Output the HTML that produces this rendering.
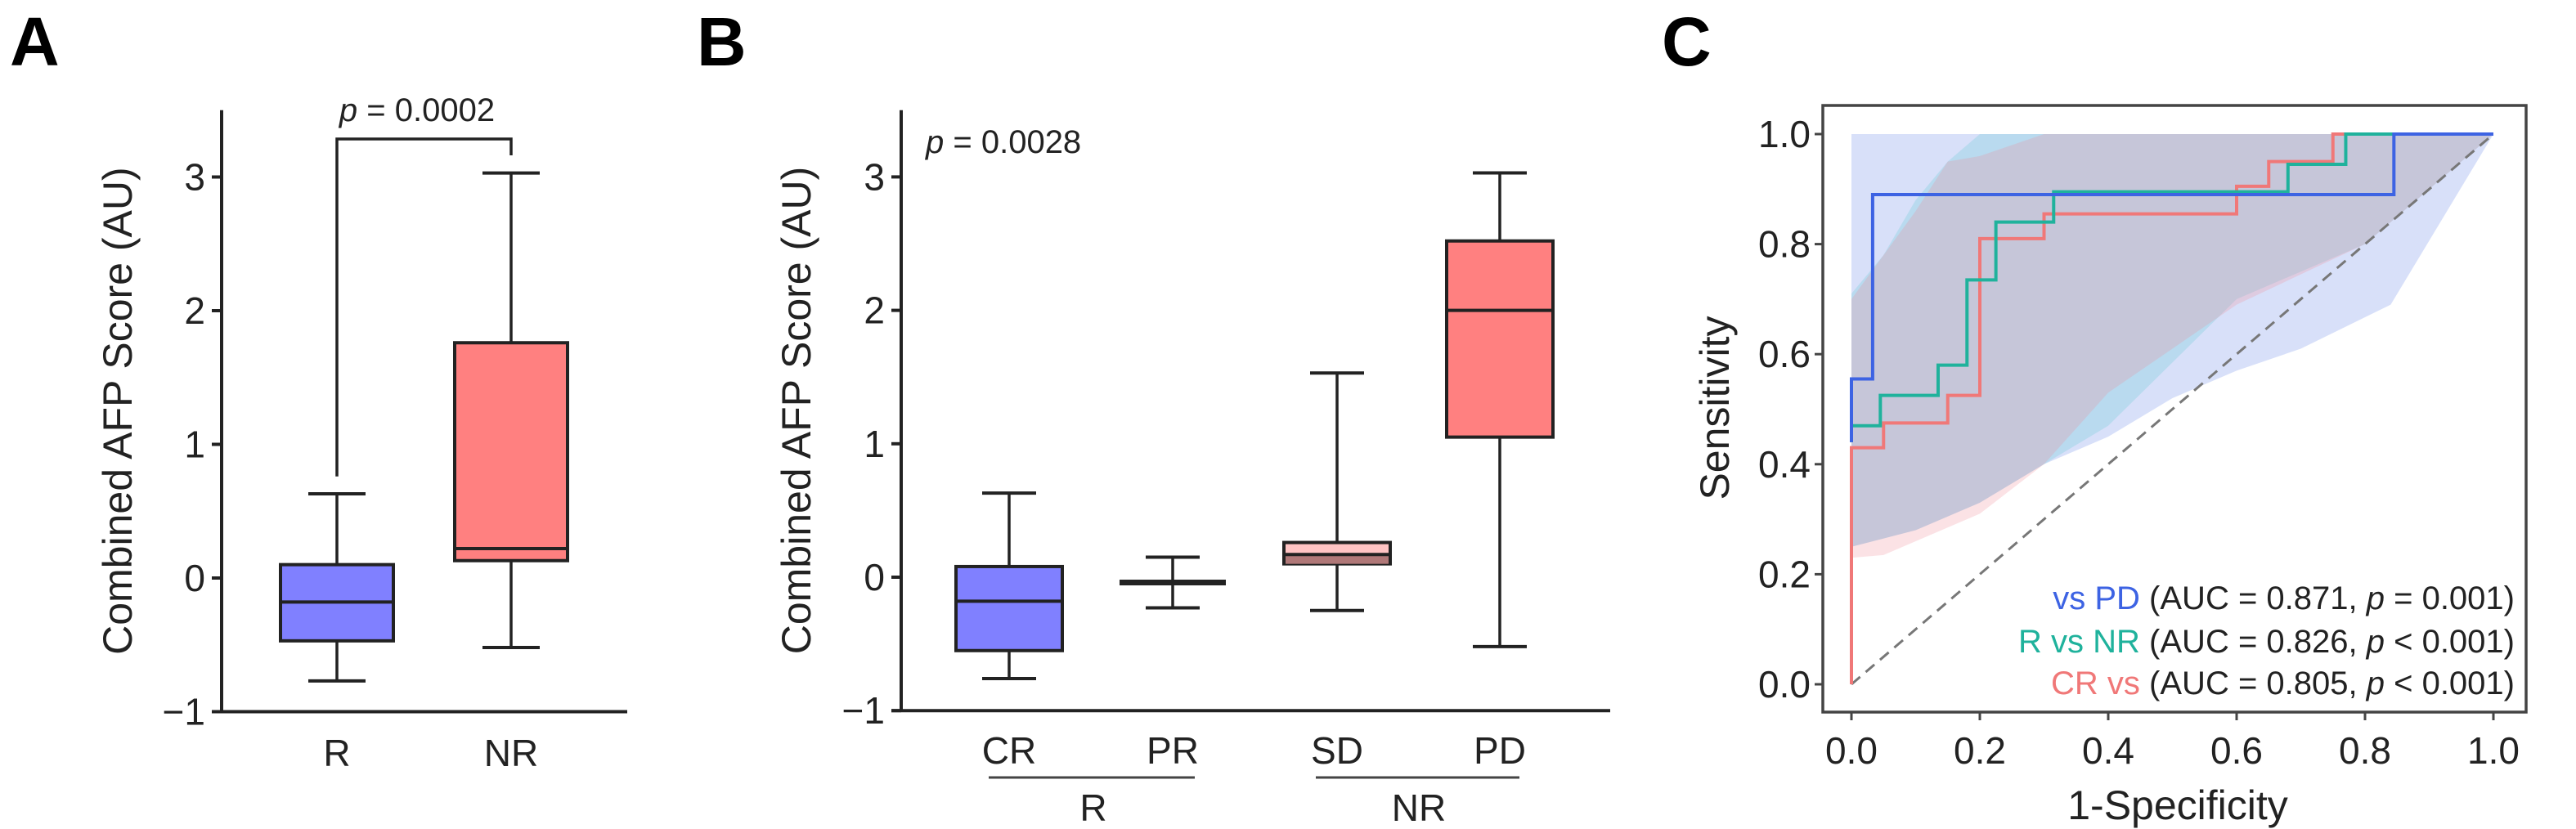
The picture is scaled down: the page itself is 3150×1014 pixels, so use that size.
<!DOCTYPE html>
<html><head><meta charset="utf-8">
<style>
html,body{margin:0;padding:0;background:#fff;}
svg{display:block;font-family:"Liberation Sans",Arial,sans-serif;}
</style></head>
<body>
<svg id="fig" width="3150" height="1014" viewBox="0 0 3150 1014">
  <text x="12" y="80" font-size="84" font-weight="bold">A</text>
  <text x="852" y="80" font-size="84" font-weight="bold">B</text>
  <text x="2032" y="80" font-size="84" font-weight="bold">C</text>
  <g id="pa"></g>
  <g id="pb"></g>
  <g id="pc"></g>
</svg>
<script>
// Panel A data
const aCats = ["R","NR"];
const aLow = [-0.77,-0.52];
const aQ1 = [-0.47,0.13];
const aMed = [-0.18,0.22];
const aQ3 = [0.10,1.76];
const aHigh = [0.63,3.03];
// Panel B data
const bCats = ["CR","PR","SD","PD"];
const bLow = [-0.76,-0.23,-0.25,-0.52];
const bQ1 = [-0.55,-0.04,0.10,1.05];
const bMed = [-0.18,-0.04,0.17,2.00];
const bQ3 = [0.08,-0.04,0.26,2.52];
const bHigh = [0.63,0.15,1.53,3.03];
const yTicks = [-1,0,1,2,3];
const yTickLabels = ["\u22121","0","1","2","3"];
// Panel C data
const rocTicks = [0,0.2,0.4,0.6,0.8,1.0];
const rocTickLabels = ["0.0","0.2","0.4","0.6","0.8","1.0"];
const bluePts = [[0,0.44],[0,0.555],[0.033,0.555],[0.033,0.89],[0.845,0.89],[0.845,1],[1,1]];
const tealPts = [[0,0.44],[0,0.47],[0.045,0.47],[0.045,0.525],[0.135,0.525],[0.135,0.58],[0.18,0.58],[0.18,0.735],[0.225,0.735],[0.225,0.84],[0.315,0.84],[0.315,0.895],[0.68,0.895],[0.68,0.945],[0.77,0.945],[0.77,1],[1,1]];
const redPts = [[0,0],[0,0.43],[0.05,0.43],[0.05,0.475],[0.15,0.475],[0.15,0.525],[0.2,0.525],[0.2,0.81],[0.3,0.81],[0.3,0.855],[0.6,0.855],[0.6,0.905],[0.65,0.905],[0.65,0.95],[0.75,0.95],[0.75,1],[1,1]];
const blueBandUp = [[0,1],[1,1]];
const blueBandLo = [[0,0.25],[0.1,0.28],[0.2,0.33],[0.3,0.40],[0.4,0.45],[0.5,0.52],[0.6,0.57],[0.7,0.61],[0.84,0.69],[1,1]];
const tealBandUp = [[0,0.71],[0.05,0.78],[0.1,0.88],[0.15,0.95],[0.2,1],[1,1]];
const tealBandLo = [[0,0.25],[0.1,0.28],[0.2,0.33],[0.3,0.40],[0.4,0.47],[0.6,0.70],[0.8,0.80],[1,1]];
const redBandUp = [[0,0.70],[0.1,0.86],[0.15,0.95],[0.2,0.96],[0.3,1],[1,1]];
const redBandLo = [[0,0.23],[0.05,0.235],[0.2,0.31],[0.3,0.40],[0.4,0.53],[0.6,0.69],[0.8,0.80],[1,1]];

const NS="http://www.w3.org/2000/svg";
function mk(parent,tag,attrs,text){const e=document.createElementNS(NS,tag);for(const k in attrs)e.setAttribute(k,attrs[k]);if(text!==undefined)e.textContent=text;parent.appendChild(e);return e;}

function boxPanel(g, axX, axEnd, y0px, unit, centers, low,q1,med,q3,high, fills, halfW, capHalf, titleX){
  const Y=v=>y0px - v*unit;
  let ax=mk(g,'line',{x1:axX,y1:Y(-1),x2:axX,y2:Y(3.5),stroke:'#222','stroke-width':4});
  
  let xl=mk(g,'line',{x1:axX-12,y1:Y(-1),x2:axEnd,y2:Y(-1),stroke:'#222','stroke-width':4});
  
  yTicks.forEach((t,i)=>{
    let tk=mk(g,'line',{x1:axX-12,y1:Y(t),x2:axX,y2:Y(t),stroke:'#222','stroke-width':4});
    
    let tl=mk(g,'text',{x:axX-20,y:Y(t)+16,'font-size':46,'text-anchor':'end',fill:'#222'},yTickLabels[i]);
    
  });
  let tt=mk(g,'text',{x:titleX,y:(Y(-1)+Y(3.5))/2,'font-size':50,'text-anchor':'middle',fill:'#222',transform:`rotate(-90 ${titleX} ${(Y(-1)+Y(3.5))/2})`},'Combined AFP Score (AU)');
  
  centers.forEach((c,i)=>{
    const bg=mk(g,'g',{});
    
    mk(bg,'line',{x1:c,y1:Y(low[i]),x2:c,y2:Y(high[i]),stroke:'#222','stroke-width':3.5});
    mk(bg,'line',{x1:c-capHalf,y1:Y(low[i]),x2:c+capHalf,y2:Y(low[i]),stroke:'#222','stroke-width':4});
    mk(bg,'line',{x1:c-capHalf,y1:Y(high[i]),x2:c+capHalf,y2:Y(high[i]),stroke:'#222','stroke-width':4});
    if(q3[i]-q1[i]>0.001){
      mk(bg,'rect',{x:c-halfW,y:Y(q3[i]),width:2*halfW,height:Y(q1[i])-Y(q3[i]),fill:fills[i],stroke:'#222','stroke-width':4});
      if(fills[i]==='#ffc4c4') mk(bg,'rect',{x:c-halfW+2,y:Y(med[i]),width:2*halfW-4,height:Y(q1[i])-Y(med[i]),fill:'#b07878'});
    }
    mk(bg,'line',{x1:c-halfW,y1:Y(med[i]),x2:c+halfW,y2:Y(med[i]),stroke:'#222','stroke-width':(q3[i]-q1[i]>0.001)?4:7});
  });
  return Y;
}

// Panel A
const pa=document.getElementById('pa');
const aCenters=[412,625];
const YA=boxPanel(pa,271,767,707,163.5,aCenters,aLow,aQ1,aMed,aQ3,aHigh,['#8080ff','#ff8080'],69,35,161);
aCats.forEach((c,i)=>{let t=mk(pa,'text',{x:aCenters[i],y:937,'font-size':46,'text-anchor':'middle',fill:'#222'},c);});
let br=mk(pa,'polyline',{points:`412,${YA(0.76)} 412,170 625,170 625,190`,fill:'none',stroke:'#222','stroke-width':3.5});

let pA=mk(pa,'text',{x:510,y:148,'font-size':40,'text-anchor':'middle',fill:'#222'});

pA.innerHTML='<tspan font-style="italic">p</tspan> = 0.0002';

// Panel B
const pb=document.getElementById('pb');
const bCenters=[1234,1434,1635,1834];
boxPanel(pb,1102,1969,706,163.2,bCenters,bLow,bQ1,bMed,bQ3,bHigh,['#8080ff','#8080ff','#ffc4c4','#ff8080'],65,33,991);
bCats.forEach((c,i)=>{let t=mk(pb,'text',{x:bCenters[i],y:934,'font-size':46,'text-anchor':'middle',fill:'#222'},c);});
[[1209,1461,1337,'R'],[1609,1858,1735,'NR']].forEach(d=>{
  let l=mk(pb,'line',{x1:d[0],y1:951,x2:d[1],y2:951,stroke:'#444','stroke-width':3});
  
  let t=mk(pb,'text',{x:d[2],y:1004,'font-size':46,'text-anchor':'middle',fill:'#222'},d[3]);
  
});
let pB=mk(pb,'text',{x:1132,y:187,'font-size':40,fill:'#222'});

pB.innerHTML='<tspan font-style="italic">p</tspan> = 0.0028';

// Panel C
const pc=document.getElementById('pc');
const X0=2264,X1=3049,Y0=837,Y1=164;
const XC=v=>X0+v*(X1-X0), YC=v=>Y0-v*(Y0-Y1);
function band(up,lo,fill,name){
  const pts=up.map(p=>XC(p[0])+','+YC(p[1])).concat(lo.slice().reverse().map(p=>XC(p[0])+','+YC(p[1])));
  const e=mk(pc,'polygon',{points:pts.join(' '),fill:fill,stroke:'none'});
  
}
band(blueBandUp,blueBandLo,'rgba(100,130,230,0.25)','ci-band-pd');
band(tealBandUp,tealBandLo,'rgba(90,200,210,0.25)','ci-band-r-vs-nr');
band(redBandUp,redBandLo,'rgba(240,140,150,0.25)','ci-band-cr');
let dg=mk(pc,'line',{x1:XC(0),y1:YC(0),x2:XC(1),y2:YC(1),stroke:'#777','stroke-width':3,'stroke-dasharray':'14,9'});

function curve(pts,col,name){
  const e=mk(pc,'polyline',{points:pts.map(p=>XC(p[0])+','+YC(p[1])).join(' '),fill:'none',stroke:col,'stroke-width':4});
  
}
curve(redPts,'#f07878','roc-cr');
curve(tealPts,'#1fb29c','roc-r-vs-nr');
curve(bluePts,'#3d63e3','roc-pd');
let fr=mk(pc,'rect',{x:2229,y:129,width:860,height:742,fill:'none',stroke:'#444','stroke-width':3.5});

rocTicks.forEach((t,i)=>{
  let a=mk(pc,'line',{x1:2219,y1:YC(t),x2:2229,y2:YC(t),stroke:'#444','stroke-width':3});
  
  let b=mk(pc,'text',{x:2214,y:YC(t)+16,'font-size':46,'text-anchor':'end',fill:'#222'},rocTickLabels[i]);
  
  let c=mk(pc,'line',{x1:XC(t),y1:871,x2:XC(t),y2:881,stroke:'#444','stroke-width':3});
  
  let d=mk(pc,'text',{x:XC(t),y:934,'font-size':46,'text-anchor':'middle',fill:'#222'},rocTickLabels[i]);
  
});
let xt=mk(pc,'text',{x:2663,y:1002,'font-size':50,'text-anchor':'middle',fill:'#222'},'1-Specificity');

let yt=mk(pc,'text',{x:2114,y:499,'font-size':50,'text-anchor':'middle',fill:'#222',transform:'rotate(-90 2114 499)'},'Sensitivity');

[['vs PD','#3d63e3','0.871','=',745,'legend-entry-pd'],['R vs NR','#1fb29c','0.826','<',798,'legend-entry-r-vs-nr'],['CR vs','#f07878','0.805','<',849,'legend-entry-cr']].forEach(d=>{
  const t=mk(pc,'text',{x:3075,y:d[4],'font-size':40,'text-anchor':'end',fill:'#222'});
  
  t.innerHTML=`<tspan fill="${d[1]}">${d[0]}</tspan> (AUC = ${d[2]}, <tspan font-style="italic">p</tspan> ${d[3]=='<'?'&lt;':'='} 0.001)`;
});
</script>
</body></html>
